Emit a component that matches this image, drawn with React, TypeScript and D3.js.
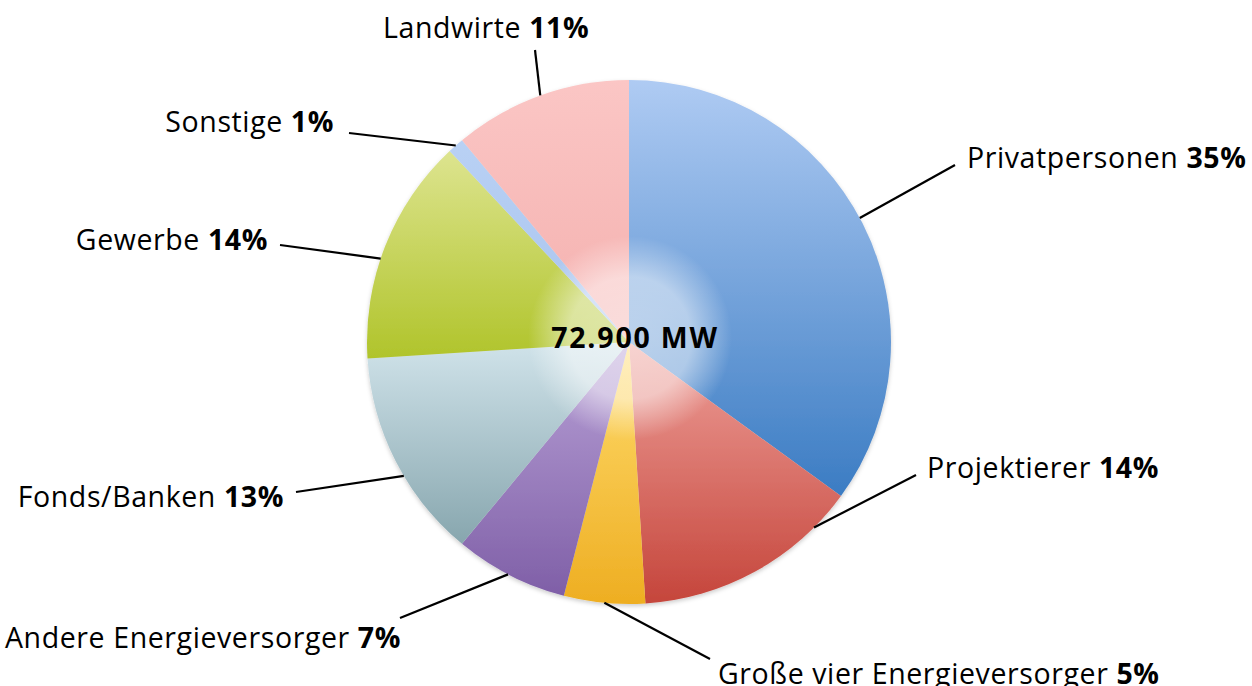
import React, { useEffect, useRef } from 'react';
import * as d3 from 'd3';

// slices clockwise from 12 o'clock
const categories = [
  'Privatpersonen',
  'Projektierer',
  'Große vier Energieversorger',
  'Andere Energieversorger',
  'Fonds/Banken',
  'Gewerbe',
  'Sonstige',
  'Landwirte',
];
const shares = [35, 14, 5, 7, 13, 14, 1, 11];
const totalLabel = '72.900 MW';

// top / bottom colour of each slice gradient
const topColors = ['#afcbf3', '#ee9f99', '#ffdc6e', '#b9a2d7', '#d0e3ea', '#dde48f', '#b9d1f4', '#fbc6c5'];
const bottomColors = ['#3b7cc3', '#c5453b', '#eeae22', '#7f5fa7', '#87a6ae', '#b0c42b', '#a8c3ee', '#f4b0ae'];

// label placement: text anchor (x, baseline), side, leader line end,
// t = where along the slice's arc the leader line touches (0..1)
const labelLayout = [
  { x: 967, y: 168, anchor: 'start', lx: 955, ly: 165, t: 0.49 },
  { x: 927, y: 478, anchor: 'start', lx: 916, ly: 475, t: 0.18 },
  { x: 718, y: 684, anchor: 'start', lx: 710, ly: 659, t: 0.5 },
  { x: 401, y: 648, anchor: 'end', lx: 400, ly: 618, t: 0.52 },
  { x: 284, y: 507, anchor: 'end', lx: 296, ly: 492, t: 0.42 },
  { x: 268, y: 250, anchor: 'end', lx: 280, ly: 245, t: 0.44 },
  { x: 334, y: 132, anchor: 'end', lx: 349, ly: 133, t: 0.5 },
  { x: 383, y: 38, anchor: 'start', lx: 535, ly: 50, t: 0.5 },
];

const W = 1252;
const H = 686;
const cx = 629;
const cy = 342;
const R = 262;
const FONT = "'Open Sans', 'Noto Sans', sans-serif";

export default function App() {
  const svgRef = useRef<SVGSVGElement | null>(null);

  useEffect(() => {
    document.body.style.margin = '0';
    if (!svgRef.current) return;
    const svg = d3.select(svgRef.current);
    svg.selectAll('*').remove();

    const defs = svg.append('defs');
    categories.forEach((_, i) => {
      const g = defs.append('linearGradient')
        .attr('id', `grad${i}`)
        .attr('x1', 0).attr('y1', 0).attr('x2', 0).attr('y2', 1);
      g.append('stop').attr('offset', '0%').attr('stop-color', topColors[i]);
      g.append('stop').attr('offset', '100%').attr('stop-color', bottomColors[i]);
    });

    const glow = defs.append('radialGradient').attr('id', 'glow');
    glow.append('stop').attr('offset', '0%').attr('stop-color', '#fff').attr('stop-opacity', 0.55);
    glow.append('stop').attr('offset', '60%').attr('stop-color', '#fff').attr('stop-opacity', 0.5);
    glow.append('stop').attr('offset', '100%').attr('stop-color', '#fff').attr('stop-opacity', 0);

    const shadow = defs.append('filter').attr('id', 'shadow')
      .attr('x', '-10%').attr('y', '-10%').attr('width', '120%').attr('height', '120%');
    shadow.append('feDropShadow')
      .attr('dx', 0).attr('dy', 2).attr('stdDeviation', 2)
      .attr('flood-color', '#000').attr('flood-opacity', 0.2);

    const pie = d3.pie<number>().sort(null).value((d) => d);
    const arcs = pie(shares);
    const arc = d3.arc<d3.PieArcDatum<number>>().innerRadius(0).outerRadius(R);

    const g = svg.append('g').attr('transform', `translate(${cx},${cy})`);

    g.append('g').attr('filter', 'url(#shadow)')
      .selectAll('path')
      .data(arcs)
      .join('path')
      .attr('d', arc)
      .attr('fill', (_, i) => `url(#grad${i})`);

    g.append('circle')
      .attr('cx', 1).attr('cy', -4).attr('r', 102)
      .attr('fill', 'url(#glow)');

    // leader lines
    arcs.forEach((a, i) => {
      const l = labelLayout[i];
      const ang = a.startAngle + (a.endAngle - a.startAngle) * l.t;
      const px = cx + R * Math.sin(ang);
      const py = cy - R * Math.cos(ang);
      svg.append('line')
        .attr('x1', px).attr('y1', py)
        .attr('x2', l.lx).attr('y2', l.ly)
        .attr('stroke', '#000').attr('stroke-width', 2.2);
    });

    // labels
    categories.forEach((name, i) => {
      const l = labelLayout[i];
      const t = svg.append('text')
        .attr('x', l.x).attr('y', l.y)
        .attr('text-anchor', l.anchor)
        .attr('font-family', FONT)
        .attr('font-size', 28.5)
        .attr('letter-spacing', 0.6)
        .attr('fill', '#000');
      t.append('tspan').text(name + ' ');
      t.append('tspan').attr('font-weight', 'bold').text(`${shares[i]}%`);
    });

    svg.append('text')
      .attr('x', 635).attr('y', 348)
      .attr('text-anchor', 'middle')
      .attr('font-family', FONT)
      .attr('font-size', 28.5)
      .attr('letter-spacing', 1.8)
      .attr('font-weight', 'bold')
      .attr('fill', '#000')
      .text(totalLabel);
  }, []);

  return <svg ref={svgRef} width={W} height={H} style={{ display: 'block', background: '#fff' }} />;
}
